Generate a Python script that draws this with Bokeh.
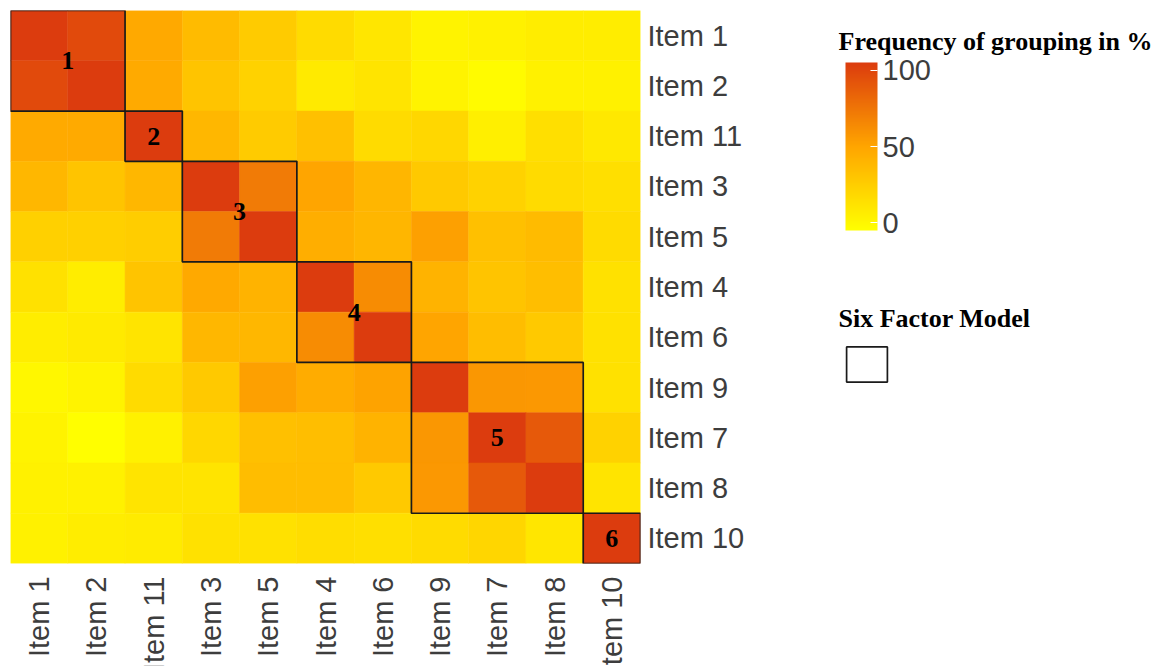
import math
import numpy as np
from bokeh.plotting import figure
from bokeh.layouts import row
from bokeh.models import (LinearColorMapper, ColorBar, FixedTicker, Legend,
                          LegendItem, ColumnDataSource, Label, Range1d)
from bokeh.transform import transform
from bokeh.core.properties import value
from bokeh.embed import file_html
from bokeh.resources import INLINE

# ---------------- data ----------------
items = ["Item 1", "Item 2", "Item 11", "Item 3", "Item 5", "Item 4",
         "Item 6", "Item 9", "Item 7", "Item 8", "Item 10"]

# frequency of grouping in % (rows top->bottom, columns left->right, same order as items)
row_item1 = [100, 93, 48, 38, 29, 20, 14, 7, 8, 10, 10]
row_item2 = [93, 100, 47, 33, 25, 12, 15, 7, 2, 8, 8]
row_item11 = [47, 47, 100, 40, 29, 35, 20, 22, 9, 18, 13]
row_item3 = [40, 33, 40, 100, 70, 50, 41, 30, 25, 20, 18]
row_item5 = [26, 26, 28, 70, 100, 45, 41, 52, 35, 38, 20]
row_item4 = [17, 10, 33, 48, 42, 100, 62, 42, 33, 36, 17]
row_item6 = [10, 12, 15, 40, 40, 62, 100, 50, 37, 30, 17]
row_item9 = [5, 7, 20, 30, 52, 46, 51, 100, 57, 56, 17]
row_item7 = [7, 1, 8, 22, 35, 36, 42, 57, 100, 86, 25]
row_item8 = [8, 8, 15, 15, 37, 37, 30, 56, 86, 100, 15]
row_item10 = [8, 10, 11, 17, 17, 19, 18, 20, 23, 14, 100]
freq = [row_item1, row_item2, row_item11, row_item3, row_item5, row_item4,
        row_item6, row_item9, row_item7, row_item8, row_item10]

group_labels = ["1", "2", "3", "4", "5", "6"]
group_sizes = [2, 1, 2, 2, 3, 1]

cb_ticks = [0, 50, 100]
cb_title = "Frequency of grouping in %"
legend_title = "Six Factor Model"

# ---------------- palette (yellow -> orange -> red) ----------------
def lerp(c1, c2, t):
    return tuple(int(round(a + (b - a) * t)) for a, b in zip(c1, c2))

low_c, mid_c, high_c = (255, 255, 0), (255, 165, 0), (220, 60, 14)
pal = []
for k in range(256):
    t = k / 255
    if t <= 0.5:
        c = lerp(low_c, mid_c, t / 0.5)
    else:
        c = lerp(mid_c, high_c, (t - 0.5) / 0.5)
    pal.append("#%02x%02x%02x" % c)

n = len(items)
xs, ys, vs = [], [], []
for i in range(n):
    for j in range(n):
        xs.append(j)
        ys.append(n - 1 - i)
        vs.append(freq[i][j])
src = ColumnDataSource(dict(x=xs, y=ys, v=vs))

starts = np.concatenate([[0], np.cumsum(group_sizes)[:-1]])
gc = starts + (np.array(group_sizes) - 1) / 2.0
gsrc = ColumnDataSource(dict(x=gc, y=(n - 1) - gc, w=group_sizes, lab=group_labels))

# ---------------- main heatmap ----------------
FW, FH, TOP, LEFT, RIGHT, BOTTOM = 630, 553, 10, 10, 190, 95
p = figure(frame_width=FW, frame_height=FH,
           min_border_left=LEFT, min_border_top=TOP,
           min_border_right=RIGHT, min_border_bottom=BOTTOM,
           x_range=(-0.5, n - 0.5), y_range=(-0.5, n - 0.5),
           y_axis_location="right",
           output_backend="svg", toolbar_location=None)

mapper = LinearColorMapper(palette=pal, low=0, high=100)
p.rect("x", "y", 1, 1, source=src,
       fill_color=transform("v", mapper), line_color=transform("v", mapper),
       line_width=0.5)

p.rect("x", "y", "w", "w", source=gsrc, fill_alpha=0,
       line_color="#1a1a1a", line_width=1.7)

p.text("x", "y", text="lab", source=gsrc, text_font=value("Liberation Serif"),
       text_font_style="bold", text_font_size="26px", text_align="center",
       text_baseline="middle", text_color="black")

p.grid.visible = False
p.outline_line_color = None
for ax in (p.xaxis[0], p.yaxis[0]):
    ax.axis_line_color = None
    ax.major_tick_line_color = None
    ax.minor_tick_line_color = None
    ax.major_label_text_font = "Liberation Sans"
    ax.major_label_text_font_size = "29px"
    ax.major_label_text_color = "#3d3d3d"
    ax.ticker = FixedTicker(ticks=list(range(n)))
p.xaxis.major_label_standoff = 7
p.yaxis.major_label_standoff = 1
p.xaxis.major_label_overrides = {j: items[j] for j in range(n)}
p.yaxis.major_label_overrides = {n - 1 - i: items[i] for i in range(n)}
p.xaxis.major_label_orientation = math.pi / 2

# ---------------- legend panel: coordinates equal page pixels ----------------
X0 = LEFT + FW + RIGHT          # page x where this panel starts
W2 = 336
q = figure(frame_width=W2, frame_height=FH,
           min_border_left=0, min_border_right=0,
           min_border_top=TOP, min_border_bottom=BOTTOM,
           x_range=Range1d(X0, X0 + W2), y_range=Range1d(TOP + FH, TOP),
           x_axis_location=None, y_axis_location=None,
           output_backend="svg", toolbar_location=None)
q.grid.visible = False
q.outline_line_color = None

cb_mapper = LinearColorMapper(palette=pal, low=-5, high=105)
cb = ColorBar(color_mapper=cb_mapper, ticker=FixedTicker(ticks=cb_ticks),
              location=(845 - X0, TOP + FH - 230), width=32, height=168, padding=0,
              major_label_text_font="Liberation Sans",
              major_label_text_font_size="29px",
              major_label_text_color="#3d3d3d",
              major_tick_line_color="white", major_tick_in=7, major_tick_out=0,
              label_standoff=5, bar_line_color=None,
              background_fill_alpha=0, border_line_color=None)
q.add_layout(cb, "center")

q.add_layout(Label(x=838, y=41, text=cb_title, text_font="Liberation Serif",
                   text_font_style="bold", text_font_size="26px",
                   text_color="black", text_baseline="middle"))
q.add_layout(Label(x=838, y=318, text=legend_title, text_font="Liberation Serif",
                   text_font_style="bold", text_font_size="26px",
                   text_color="black", text_baseline="middle"))

# the factor-model groups, in this panel's pixel space they fall outside the
# visible range; the renderer only provides the legend key's style
key = q.rect("x", "y", "w", "w", source=gsrc, fill_color="white",
             line_color="#1a1a1a", line_width=1.7)
legend = Legend(items=[LegendItem(label="\u00a0", renderers=[key])],
                location=(841 - X0, TOP + FH - 386),
                glyph_width=51, glyph_height=44,
                padding=0, margin=0, border_line_color=None,
                background_fill_alpha=0, label_text_font_size="10px")
q.add_layout(legend, "center")

layout = row(p, q, spacing=0)
open("out.html", "w").write(file_html(layout, INLINE))
